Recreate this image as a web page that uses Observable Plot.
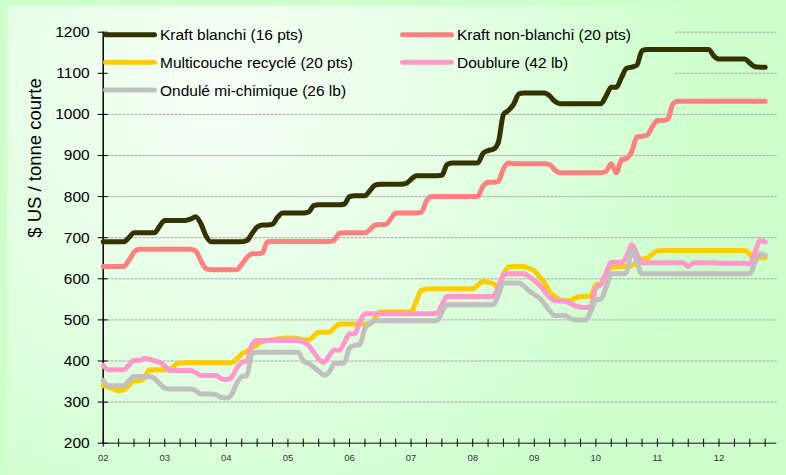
<!DOCTYPE html>
<html><head><meta charset="utf-8">
<script src="https://cdn.jsdelivr.net/npm/d3@7"></script>
<script src="https://cdn.jsdelivr.net/npm/@observablehq/plot@0.6"></script>
<style>
html,body{margin:0;padding:0;background:#ccffcc;}
#chart{width:786px;height:475px;position:relative;overflow:hidden;}
svg{display:block;}
</style></head><body><div id="chart"></div>
<script>
// Year tick labels (Jan of each year, monthly data starting Jan 2002)
const yearLabels = ["02","03","04","05","06","07","08","09","10","11","12"];
const yTickValues = [200,300,400,500,600,700,800,900,1000,1100,1200];
const seriesNames = ["Kraft blanchi (16 pts)","Kraft non-blanchi (20 pts)","Multicouche recyclé (20 pts)","Doublure (42 lb)","Ondulé mi-chimique (26 lb)"];
const seriesColors = ["#333300","#ff8080","#ffcc00","#ff99cc","#c0c0c0"];
const yTitle = "$ US / tonne courte";

// Monthly values, Jan 2002 – Oct 2012 ($ US / short ton)
const kraftBlanchi = [
 690,690,690,690,690,700,712,712,712,712,712,728,
 742,742,742,742,742,745,751,735,705,690,690,690,
 690,690,690,690,693,710,726,731,731,733,750,760,
 760,760,760,760,762,778,780,780,780,780,780,782,
 800,802,802,802,815,828,830,830,830,830,830,832,
 842,851,851,851,851,851,852,878,882,882,882,882,
 882,882,905,912,915,932,1000,1010,1025,1050,1052,1052,
 1052,1052,1052,1045,1032,1026,1026,1026,1026,1026,1026,1026,
 1026,1026,1045,1066,1066,1090,1112,1115,1120,1155,1158,1158,
 1158,1158,1158,1158,1158,1158,1158,1158,1158,1158,1158,1142,
 1135,1135,1135,1135,1135,1135,1125,1116,1115,1115];
const kraftNonBlanchi = [
 630,630,630,630,630,645,665,672,672,672,672,672,
 672,672,672,672,672,672,668,645,625,622,622,622,
 622,622,622,635,652,661,661,663,690,691,691,691,
 691,691,691,691,691,691,691,691,691,694,711,712,
 712,712,712,712,720,731,732,732,745,760,760,760,
 760,760,762,790,800,800,800,800,800,800,800,800,
 800,801,825,835,835,837,868,882,880,880,880,880,
 880,880,880,878,865,858,858,858,858,858,858,858,
 858,858,862,880,858,890,893,910,945,947,950,970,
 985,985,988,1025,1032,1032,1032,1032,1032,1032,1032,1032,
 1032,1032,1032,1032,1032,1032,1032,1032,1032,1032];
const multicouche = [
 340,336,332,328,330,340,352,352,358,378,379,379,
 379,380,390,396,396,396,396,396,396,396,396,396,
 396,396,405,417,424,432,440,447,450,452,454,455,
 456,456,455,452,452,460,470,470,470,480,490,490,
 490,490,490,490,490,505,520,520,520,520,520,520,
 520,545,572,575,576,576,576,576,576,576,576,576,
 576,585,594,592,588,580,610,629,630,630,630,625,
 620,605,590,568,557,549,547,547,553,557,557,558,
 585,588,610,629,629,630,630,632,640,648,650,660,
 668,669,669,669,669,669,669,669,669,669,669,669,
 669,669,669,669,669,669,660,651,651,651];
const doublure = [
 389,379,379,379,379,390,401,401,406,405,400,397,
 388,377,377,377,377,377,372,365,365,365,365,357,
 355,360,382,397,401,440,450,450,450,450,450,450,
 450,450,450,446,438,422,405,397,412,427,426,445,
 466,466,495,515,515,515,515,515,515,515,515,515,
 515,515,515,515,515,516,537,557,557,557,557,557,
 557,557,557,557,557,580,610,612,612,612,612,605,
 596,585,570,555,547,546,545,540,534,531,530,532,
 578,586,615,640,640,640,655,683,660,639,639,639,
 639,639,639,639,639,639,630,639,639,639,639,639,
 638,638,638,638,638,638,636,665,693,690];
const ondule = [
 353,340,340,340,340,352,362,362,362,362,357,345,
 334,332,332,332,332,332,328,320,320,320,318,311,
 310,318,345,362,365,418,421,421,421,421,421,421,
 421,421,421,400,394,385,375,366,372,394,394,396,
 432,438,440,480,492,498,498,498,498,498,498,498,
 498,498,498,498,498,498,518,537,537,537,537,537,
 537,537,537,537,537,560,590,590,590,590,582,571,
 562,553,539,522,511,511,511,504,500,500,500,520,
 548,551,580,612,612,612,615,672,640,612,612,612,
 612,612,612,612,612,612,612,612,612,612,612,612,
 612,612,612,612,612,612,612,640,661,657];

const seriesValues = [kraftBlanchi, kraftNonBlanchi, multicouche, doublure, ondule];
const rows = [];
seriesValues.forEach((vals, s) => vals.forEach((v, i) => rows.push({month: i, value: v, series: seriesNames[s]})));

const quarterTicks = d3.range(0, 130, 3);
const yearTicks = yearLabels.map((_, i) => i * 12);
const gridValues = yTickValues.filter(v => v > 200);

const W = 786, H = 475;
const font = "'Liberation Sans', Arial, Helvetica, sans-serif";

const svg = Plot.plot({
  width: W, height: H,
  marginLeft: 102.7, marginRight: 9.5, marginTop: 31.7, marginBottom: 32.3,
  style: {background: "transparent", fontFamily: font, overflow: "visible"},
  x: {domain: [0, 131.3]},
  y: {domain: [200, 1200]},
  color: {domain: seriesNames, range: seriesColors},
  marks: [
    Plot.ruleY(gridValues, {stroke: "#a8a8a8", strokeWidth: 1, strokeDasharray: "3,1"}),
    Plot.ruleY([200], {stroke: "#4f5f4f", strokeWidth: 1.6}),
    Plot.ruleX([0], {stroke: "#000", strokeWidth: 1.5}),
    Plot.axisX({ticks: quarterTicks, tickSize: 8, dy: -4, tickFormat: () => "", label: null, stroke: "#000"}),
    Plot.axisX({ticks: yearTicks, tickSize: 0, tickPadding: 11, tickFormat: d => yearLabels[Math.round(d / 12)], label: null, fontSize: 9.5, fill: "#333"}),
    Plot.axisY({ticks: yTickValues, tickSize: 10, dx: 5, tickFormat: () => "", label: null, stroke: "#000"}),
    Plot.axisY({ticks: yTickValues, tickSize: 0, tickPadding: 13.5, tickFormat: d => String(d), label: null, fontSize: 15.5, fill: "#000"}),
    Plot.text([yTitle], {frameAnchor: "left", dx: -67.7, rotate: -90, fontSize: 18.5, fill: "#000"}),
    Plot.line(rows, {x: "month", y: "value", z: "series", stroke: "series", strokeWidth: 5,
      curve: "monotone-x", strokeLinejoin: "round", strokeLinecap: "round"})
  ]
});

const s = d3.select(svg);
const defs = s.insert("defs", ":first-child");
const grad = defs.append("radialGradient").attr("id", "bgGrad")
  .attr("gradientUnits", "userSpaceOnUse").attr("cx", 220).attr("cy", 90).attr("r", 600);
grad.append("stop").attr("offset", 0).attr("stop-color", "#f8fff8");
grad.append("stop").attr("offset", 0.85).attr("stop-color", "#ccffcc");
s.insert("rect", "defs + *").attr("x", 7).attr("y", 6).attr("width", W - 7).attr("height", H - 6).attr("fill", "url(#bgGrad)");

// legend background hides the grid behind the legend, above the grid
const gridG = svg.querySelector('g[aria-label="rule"]');
const bg = document.createElementNS("http://www.w3.org/2000/svg", "rect");
bg.setAttribute("x", 104); bg.setAttribute("y", 18); bg.setAttribute("width", 571); bg.setAttribute("height", 86);
bg.setAttribute("fill", "url(#bgGrad)");
gridG.parentNode.insertBefore(bg, gridG.nextSibling);

// legend
const legendItems = [
  {i: 0, x: 105.5, y: 34.7}, {i: 1, x: 402.5, y: 34.7},
  {i: 2, x: 105.5, y: 62.3}, {i: 3, x: 402.5, y: 62.3},
  {i: 4, x: 105.5, y: 90}
];
const lg = s.append("g").attr("text-anchor", "start");
legendItems.forEach(d => {
  lg.append("line").attr("x1", d.x).attr("x2", d.x + 49).attr("y1", d.y).attr("y2", d.y)
    .attr("stroke", seriesColors[d.i]).attr("stroke-width", 5).attr("stroke-linecap", "round");
  lg.append("text").attr("x", d.x + 54.5).attr("y", d.y + 5.5).attr("font-size", 15.5)
    .attr("text-anchor", "start").attr("font-family", font).attr("fill", "#000").text(seriesNames[d.i]);
});

document.getElementById("chart").appendChild(svg);
</script>
</body></html>
